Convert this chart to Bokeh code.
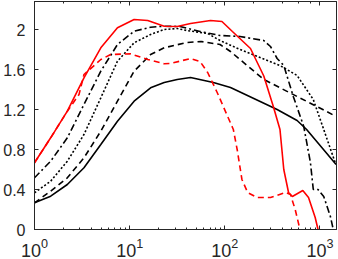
from bokeh.plotting import figure
from bokeh.models import LogAxis, LinearAxis, FixedTicker, Range1d
from bokeh.embed import file_html
from bokeh.resources import INLINE

# ---- data ----
solid_x = [1, 1.479, 2.213, 3.311, 4.977, 7.447, 11.14, 16.6, 23.07, 31.62, 43.65, 75.86, 114.8, 354.8, 575.4, 724.4, 1479]
solid_y = [0.267, 0.333, 0.45, 0.617, 0.85, 1.083, 1.283, 1.417, 1.47, 1.50, 1.52, 1.47, 1.42, 1.20, 1.09, 1.0, 0.65]

dashed_x = [1, 1.479, 2.213, 3.311, 4.977, 7.447, 11.14, 16.6, 23.07, 39.81, 56.23, 89.13, 114.8, 144.5, 257, 575.4, 1072, 1479]
dashed_y = [0.267, 0.383, 0.517, 0.717, 0.983, 1.283, 1.583, 1.75, 1.817, 1.87, 1.88, 1.85, 1.78, 1.70, 1.50, 1.33, 1.20, 1.13]

dashdot_x = [1, 1.479, 2.213, 3.311, 4.977, 7.447, 11.14, 16.6, 23.07, 33.88, 54.95, 89.13, 144.5, 257, 302, 354.8, 416.9, 524.8, 676.1, 794.3, 851.1, 955, 1096, 1288, 1380]
dashdot_y = [0.517, 0.683, 0.917, 1.25, 1.583, 1.85, 1.983, 2.023, 2.033, 2.03, 1.98, 1.94, 1.93, 1.89, 1.83, 1.71, 1.64, 1.33, 1.03, 0.67, 0.40, 0.40, 0.33, 0.13, 0.0]

dotted_x = [1, 1.479, 2.213, 3.311, 4.977, 7.447, 11.14, 16.6, 23.07, 31.62, 39.81, 66.07, 89.13, 144.5, 380.2, 575.4, 851.1, 1096, 1445]
dotted_y = [0.367, 0.483, 0.683, 0.95, 1.317, 1.683, 1.867, 1.95, 2.0, 2.01, 1.99, 1.96, 1.89, 1.80, 1.64, 1.54, 1.30, 1.0, 0.67]

red_x = [1, 1.479, 2.213, 3.311, 4.977, 7.447, 11.14, 15.49, 23.07, 31.62, 43.65, 70.79, 93.33, 120.2, 186.2, 257, 323.6, 380.2, 416.9, 467.7, 512.9, 660.7, 758.6, 891.3, 955]
red_y = [0.667, 0.917, 1.183, 1.517, 1.817, 2.017, 2.10, 2.09, 2.033, 2.03, 2.06, 2.09, 2.08, 1.98, 1.81, 1.535, 1.23, 1.0, 0.60, 0.37, 0.33, 0.39, 0.32, 0.12, 0.0]

reddash_x = [1, 1.479, 2.213, 2.938, 3.311, 4.977, 6.31, 10.23, 15.49, 23.07, 26.92, 43.65, 54.95, 66.07, 83.18, 107.2, 123.0, 134.9, 151.4, 173.8, 218.8, 302, 436.5, 489.8, 549.5, 616.6]
reddash_y = [0.667, 0.917, 1.183, 1.35, 1.55, 1.70, 1.75, 1.757, 1.70, 1.657, 1.66, 1.71, 1.68, 1.57, 1.37, 1.13, 1.0, 0.80, 0.50, 0.37, 0.32, 0.32, 0.37, 0.35, 0.20, 0.0]

y_ticks = [0, 0.4, 0.8, 1.2, 1.6, 2]
y_labels = ["0", "0.4", "0.8", "1.2", "1.6", "2"]

FONT = "Liberation Sans"
AX = "#262626"

p = figure(width=338, height=259, x_axis_type="log",
           x_range=Range1d(1, 1493), y_range=Range1d(0, 2.28),
           output_backend="svg", toolbar_location=None,
           min_border_left=34, min_border_right=2, min_border_top=1, min_border_bottom=30)
p.grid.visible = False
p.outline_line_color = AX
p.outline_line_width = 1
p.background_fill_color = "white"
p.border_fill_color = "white"

lw = 1.6
p.line(solid_x, solid_y, line_color="black", line_width=lw)
p.line(dashed_x, dashed_y, line_color="black", line_width=lw, line_dash="6 4")
p.line(dashdot_x, dashdot_y, line_color="black", line_width=lw, line_dash="7 3 2 3")
p.line(dotted_x, dotted_y, line_color="black", line_width=lw, line_dash="2 2")
p.line(red_x, red_y, line_color="red", line_width=lw)
p.line(reddash_x, reddash_y, line_color="red", line_width=lw, line_dash="6 4")

# y axis
ya = p.yaxis[0]
ya.ticker = FixedTicker(ticks=y_ticks)
ya.major_label_overrides = {t: l for t, l in zip(y_ticks, y_labels)}
ya.major_label_text_font = FONT
ya.major_label_text_font_size = "16px"
ya.major_label_text_color = "#262626"
ya.major_tick_in = 4
ya.major_tick_out = 0
ya.minor_tick_in = 0
ya.minor_tick_out = 0
ya.axis_line_color = AX
ya.major_tick_line_color = AX
ya.major_label_standoff = 9

# x axis
xa = p.xaxis[0]
xa.ticker.desired_num_ticks = 4
xa.major_label_text_font = FONT
xa.major_label_text_font_size = "18px"
xa.major_label_text_color = "#262626"
xa.major_tick_in = 4
xa.major_tick_out = 0
xa.minor_tick_in = 2
xa.minor_tick_out = 0
xa.axis_line_color = AX
xa.major_tick_line_color = AX
xa.minor_tick_line_color = AX
xa.major_label_standoff = 8

# mirrored ticks (box)
ra = LinearAxis(ticker=FixedTicker(ticks=y_ticks))
ra.major_label_text_color = None
ra.major_label_text_font_size = "1px"
ra.major_tick_in = 4
ra.major_tick_out = 0
ra.minor_tick_in = 0
ra.minor_tick_out = 0
ra.axis_line_color = AX
ra.major_tick_line_color = AX
ra.major_label_standoff = 0
p.add_layout(ra, "right")

ta = LogAxis()
ta.major_label_text_color = None
ta.major_label_text_font_size = "1px"
ta.major_tick_in = 4
ta.major_tick_out = 0
ta.minor_tick_in = 2
ta.minor_tick_out = 0
ta.axis_line_color = AX
ta.major_tick_line_color = AX
ta.minor_tick_line_color = AX
ta.major_label_standoff = 0
p.add_layout(ta, "above")

open("out.html", "w").write(file_html(p, INLINE))
